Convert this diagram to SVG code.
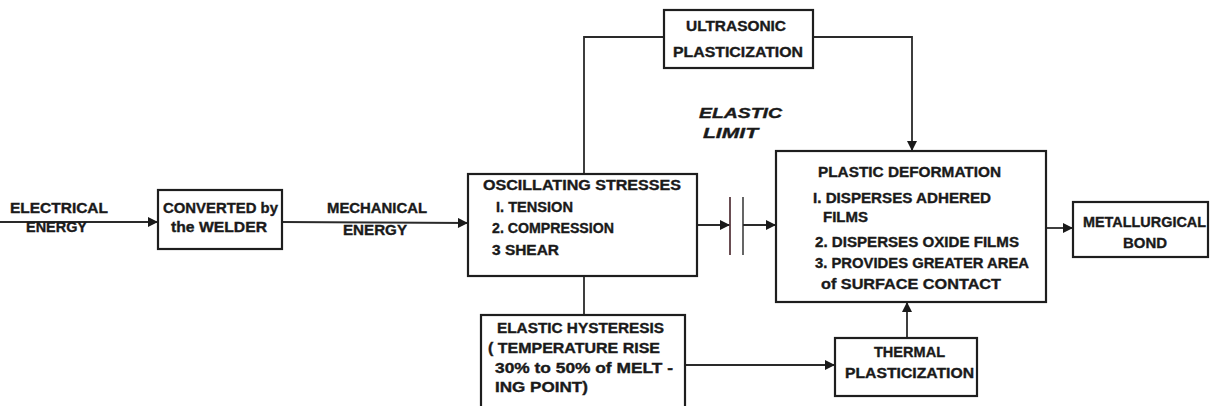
<svg xmlns="http://www.w3.org/2000/svg" width="1218" height="406" viewBox="0 0 1218 406">
<style>
.box{fill:#fff;stroke:#1e1e1e;stroke-width:2.2}
.ln{fill:none;stroke:#2a2a2a;stroke-width:1.8}
text{font-family:"Liberation Sans",Arial,sans-serif;font-weight:bold;font-size:14px;fill:#1a1a1a;stroke:#1a1a1a;stroke-width:0.35}
.it{font-style:italic}
</style>
<defs>
<marker id="ah" viewBox="0 0 10 10" refX="10" refY="5" markerWidth="11" markerHeight="10" markerUnits="userSpaceOnUse" orient="auto">
<path d="M0,0 L10,5 L0,10 Z" fill="#1a1a1a"/>
</marker>
</defs>
<rect width="1218" height="406" fill="#fff"/>
<g id="connectors">
<line class="ln" x1="0" y1="222" x2="158" y2="222" marker-end="url(#ah)"/>
<line class="ln" x1="282" y1="222" x2="468" y2="223" marker-end="url(#ah)"/>
<polyline class="ln" points="584,174 584,37 664,37"/>
<polyline class="ln" points="813,37 912,37 912,151" marker-end="url(#ah)"/>
<line class="ln" x1="697" y1="225" x2="730" y2="225" marker-end="url(#ah)"/>
<line x1="730" y1="197" x2="730" y2="255" stroke="#5a3a40" stroke-width="1.8"/>
<line x1="743" y1="197" x2="743" y2="255" stroke="#555" stroke-width="1.8"/>
<line class="ln" x1="743" y1="225" x2="776" y2="225" marker-end="url(#ah)"/>
<line class="ln" x1="1046" y1="228" x2="1073" y2="228" marker-end="url(#ah)"/>
<line class="ln" x1="584" y1="276" x2="584" y2="315"/>
<line class="ln" x1="685" y1="365" x2="835" y2="365" marker-end="url(#ah)"/>
<line class="ln" x1="907" y1="338" x2="907" y2="302" marker-end="url(#ah)"/>
</g>
<g id="label-electrical">
<text x="10" y="213" textLength="98" lengthAdjust="spacingAndGlyphs">ELECTRICAL</text>
<text x="26" y="232" textLength="61" lengthAdjust="spacingAndGlyphs">ENERGY</text>
</g>
<g id="node-converted">
<rect class="box" x="158" y="190" width="124" height="59"/>
<text x="163" y="213" textLength="115" lengthAdjust="spacingAndGlyphs">CONVERTED by</text>
<text x="171" y="232" textLength="96" lengthAdjust="spacingAndGlyphs">the WELDER</text>
</g>
<g id="label-mechanical">
<text x="327" y="213" textLength="100" lengthAdjust="spacingAndGlyphs">MECHANICAL</text>
<text x="343" y="235" textLength="64" lengthAdjust="spacingAndGlyphs">ENERGY</text>
</g>
<g id="node-ultrasonic">
<rect class="box" x="664" y="10" width="149" height="58"/>
<text x="686" y="31" textLength="100" lengthAdjust="spacingAndGlyphs">ULTRASONIC</text>
<text x="673" y="57" textLength="130" lengthAdjust="spacingAndGlyphs">PLASTICIZATION</text>
</g>
<g id="label-elastic-limit">
<text class="it" x="699" y="118" textLength="83" lengthAdjust="spacingAndGlyphs">ELASTIC</text>
<text class="it" x="703" y="138" textLength="55" lengthAdjust="spacingAndGlyphs">LIMIT</text>
</g>
<g id="node-oscillating">
<rect class="box" x="468" y="174" width="229" height="102"/>
<text x="483" y="190" textLength="198" lengthAdjust="spacingAndGlyphs">OSCILLATING  STRESSES</text>
<text x="496" y="212" textLength="77" lengthAdjust="spacingAndGlyphs">I. TENSION</text>
<text x="492" y="233" textLength="122" lengthAdjust="spacingAndGlyphs">2. COMPRESSION</text>
<text x="492" y="255" textLength="67" lengthAdjust="spacingAndGlyphs">3 SHEAR</text>
</g>
<g id="node-plastic">
<rect class="box" x="776" y="151" width="270" height="151"/>
<text x="818" y="177" textLength="183" lengthAdjust="spacingAndGlyphs">PLASTIC  DEFORMATION</text>
<text x="813" y="203" textLength="178" lengthAdjust="spacingAndGlyphs">I.  DISPERSES  ADHERED</text>
<text x="823" y="222" textLength="45" lengthAdjust="spacingAndGlyphs">FILMS</text>
<text x="815" y="247" textLength="204" lengthAdjust="spacingAndGlyphs">2.  DISPERSES  OXIDE  FILMS</text>
<text x="815" y="268" textLength="214" lengthAdjust="spacingAndGlyphs">3.  PROVIDES  GREATER  AREA</text>
<text x="821" y="289" textLength="180" lengthAdjust="spacingAndGlyphs">of SURFACE  CONTACT</text>
</g>
<g id="node-metallurgical">
<rect class="box" x="1073" y="202" width="135" height="55"/>
<text x="1083" y="227" textLength="123" lengthAdjust="spacingAndGlyphs">METALLURGICAL</text>
<text x="1123" y="248" textLength="44" lengthAdjust="spacingAndGlyphs">BOND</text>
</g>
<g id="node-hysteresis">
<rect class="box" x="481" y="315" width="204" height="110"/>
<text x="497" y="333" textLength="167" lengthAdjust="spacingAndGlyphs">ELASTIC  HYSTERESIS</text>
<text x="488" y="353" textLength="172" lengthAdjust="spacingAndGlyphs">( TEMPERATURE  RISE</text>
<text x="495" y="373" textLength="178" lengthAdjust="spacingAndGlyphs">30% to 50% of MELT -</text>
<text x="495" y="392" textLength="93" lengthAdjust="spacingAndGlyphs">ING  POINT)</text>
</g>
<g id="node-thermal">
<rect class="box" x="835" y="338" width="142" height="58"/>
<text x="874" y="357" textLength="71" lengthAdjust="spacingAndGlyphs">THERMAL</text>
<text x="845" y="378" textLength="129" lengthAdjust="spacingAndGlyphs">PLASTICIZATION</text>
</g>
</svg>
